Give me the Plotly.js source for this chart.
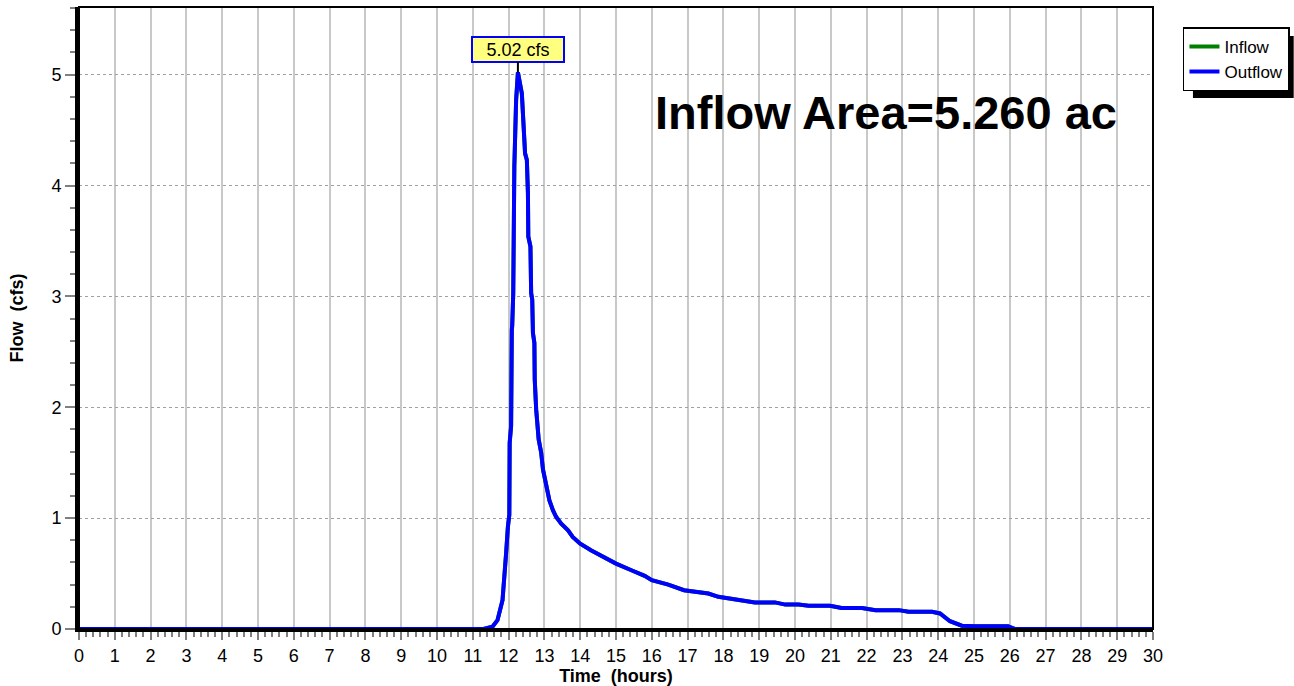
<!DOCTYPE html>
<html>
<head>
<meta charset="utf-8">
<script src="https://cdn.plot.ly/plotly-3.0.1.min.js"></script>
<style>html,body{margin:0;padding:0;background:#fff;}#chart{width:1294px;height:686px;}</style>
</head>
<body>
<div id="chart"></div>
<script>
// Time (hours)
var timeHours = [0, 11.3, 11.55, 11.69, 11.83, 11.88, 11.93, 11.98, 12.02, 12.03, 12.07, 12.09, 12.10, 12.13, 12.14, 12.16, 12.21, 12.26,
  12.37, 12.40, 12.46, 12.51, 12.54, 12.55, 12.61, 12.63, 12.66, 12.68, 12.72, 12.73, 12.77, 12.84, 12.91, 12.96,
  13.05, 13.14, 13.24, 13.33, 13.47, 13.66, 13.79, 14.0, 14.3, 14.78, 15.0, 15.43, 15.8, 16.0, 16.46, 16.9,
  17.58, 17.86, 18.5, 18.88, 19.44, 19.73, 20.1, 20.38, 20.98, 21.3, 21.87, 22.25, 22.9, 23.17, 23.83, 24.05,
  24.33, 24.66, 25.0, 25.95, 26.15, 30];
// Flow (cfs)
var outflowCfs = [0, 0, 0.02, 0.08, 0.26, 0.43, 0.68, 0.92, 1.03, 1.68, 1.83, 2.70, 2.73, 3.03, 4.00, 4.17, 4.77, 5.02,
  4.83, 4.62, 4.29, 4.23, 3.93, 3.54, 3.45, 3.03, 2.97, 2.67, 2.58, 2.25, 1.98, 1.71, 1.59, 1.44,
  1.28, 1.16, 1.07, 1.01, 0.95, 0.89, 0.83, 0.77, 0.71, 0.63, 0.59, 0.53, 0.48, 0.44, 0.40, 0.35,
  0.32, 0.29, 0.26, 0.24, 0.24, 0.22, 0.22, 0.21, 0.21, 0.19, 0.19, 0.17, 0.17, 0.155, 0.155, 0.14,
  0.07, 0.03, 0.025, 0.025, 0, 0];
var inflowCfs = outflowCfs;
var xTicks = [];
for (var i = 0; i <= 30; i++) xTicks.push(i);
var yTicks = [0, 1, 2, 3, 4, 5];
var peakTime = 12.26, peakFlow = 5.02, peakLabel = "5.02 cfs";
var areaLabel = "Inflow Area=5.260 ac";

var FONT = "Liberation Sans, Arial, sans-serif";

var traces = [
  {x: timeHours, y: inflowCfs, name: "Inflow", type: "scatter", mode: "lines",
   line: {color: "#008000", width: 4}, cliponaxis: false},
  {x: timeHours, y: outflowCfs, name: "Outflow", type: "scatter", mode: "lines",
   line: {color: "#0000ff", width: 4}, cliponaxis: false}
];

var layout = {
  width: 1294, height: 686,
  margin: {l: 79, r: 141, t: 7, b: 57, pad: 0},
  paper_bgcolor: "#ffffff", plot_bgcolor: "#ffffff",
  font: {family: FONT, size: 18, color: "#000"},
  showlegend: true,
  legend: {xref: "container", yref: "container", x: 0.9142, y: 0.960, xanchor: "left", yanchor: "top",
    bgcolor: "#ffffff", bordercolor: "#000", borderwidth: 1.5,
    font: {family: FONT, size: 17, color: "#000"}, tracegroupgap: 0, itemwidth: 30},
  xaxis: {
    range: [0, 30], tickvals: xTicks, ticktext: xTicks.map(String),
    ticks: "outside", ticklen: 8, tickwidth: 2, tickcolor: "#808080",
    showgrid: true, gridcolor: "#c8c8c8", gridwidth: 2,
    showline: true, linecolor: "#000", linewidth: 3, zeroline: false,
    minor: {dtick: 0.2, ticks: "outside", ticklen: 5, tickwidth: 2, tickcolor: "#808080", showgrid: false},
    title: {text: "<b>Time\u00a0 (hours)</b>", font: {family: FONT, size: 18}, standoff: 0},
    tickfont: {family: FONT, size: 18}
  },
  yaxis: {
    range: [0, 5.61], tickvals: yTicks, ticktext: yTicks.map(String),
    ticks: "outside", ticklen: 10, tickwidth: 2, tickcolor: "#808080",
    showgrid: true, gridcolor: "#a0a0a0", gridwidth: 1, griddash: "dot",
    showline: true, linecolor: "#000", linewidth: 4, zeroline: false,
    minor: {dtick: 0.2, ticks: "outside", ticklen: 5, tickwidth: 2, tickcolor: "#808080", showgrid: false},
    title: {text: "<b>Flow\u00a0 (cfs)</b>", font: {family: FONT, size: 18}, standoff: 24},
    tickfont: {family: FONT, size: 18}
  },
  shapes: [
    {type: "rect", xref: "paper", yref: "paper", x0: 0, x1: 1, y0: 0, y1: 1,
     line: {color: "#000", width: 2}, fillcolor: "rgba(0,0,0,0)", layer: "above"},
    {type: "rect", xref: "paper", yref: "paper", x0: 1.0372, x1: 1.131, y0: 0.8537, y1: 0.9534,
     line: {width: 0}, fillcolor: "#000", layer: "above"}
  ],
  annotations: [
    {x: peakTime, y: peakFlow, xref: "x", yref: "y", text: peakLabel,
     showarrow: true, arrowhead: 0, arrowwidth: 2, arrowcolor: "#000", ax: 0, ay: -23,
     bgcolor: "#ffff80", bordercolor: "#0000ff", borderwidth: 2, borderpad: 1,
     font: {family: FONT, size: 18, color: "#000"}, width: 88, height: 21},
    {x: 0.7514, y: 0.831, xref: "paper", yref: "paper", text: "<b>" + areaLabel + "</b>",
     showarrow: false, xanchor: "center", yanchor: "middle",
     font: {family: FONT, size: 47, color: "#000"}}
  ]
};

Plotly.newPlot("chart", traces, layout, {displayModeBar: false, staticPlot: true});
</script>
</body>
</html>
